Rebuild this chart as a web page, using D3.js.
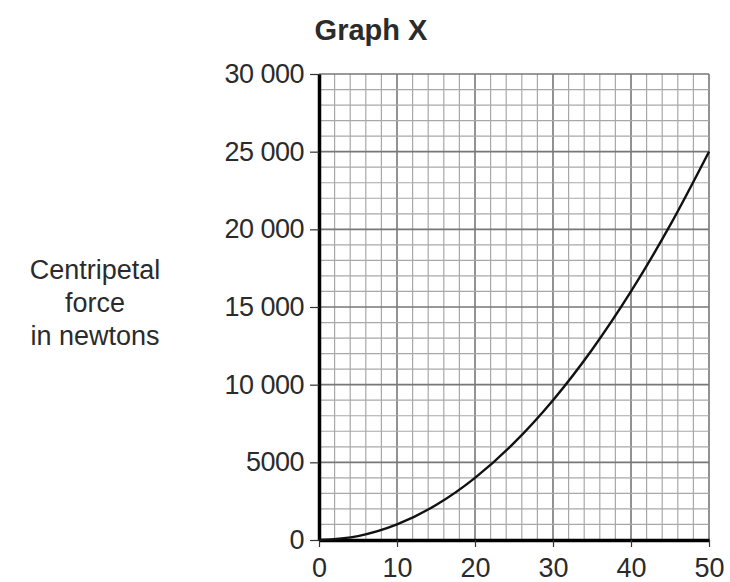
<!DOCTYPE html>
<html>
<head>
<meta charset="utf-8">
<script src="https://cdn.jsdelivr.net/npm/d3@7"></script>
<style>
  body { margin: 0; background: #fff; }
  text { font-family: "Liberation Sans", Arial, sans-serif; fill: #2b2b2b; }
</style>
</head>
<body>
<div id="chart"></div>
<script>
// values
let speed = [0, 5, 10, 15, 20, 25, 30, 35, 40, 45, 50];
let force = [0, 250, 1000, 2250, 4000, 6250, 9000, 12250, 16000, 20250, 25000];
let x_ticks = [0, 10, 20, 30, 40, 50];
let y_ticks = [0, 5000, 10000, 15000, 20000, 25000, 30000];
let y_tick_labels = ["0", "5000", "10 000", "15 000", "20 000", "25 000", "30 000"];
let title = "Graph X";
let y_label = ["Centripetal", "force", "in newtons"];

let chart_width = 730;
let chart_height = 582;
let margin_left = 319;
let margin_top = 74;
let width = 709 - margin_left;
let height = 540 - margin_top;

let svg = d3.select("#chart")
    .append("svg")
    .attr("width", chart_width)
    .attr("height", chart_height);

let g = svg.append("g")
    .attr("transform", "translate(" + margin_left + "," + margin_top + ")");

let xScale = d3.scaleLinear().domain([0, 50]).range([0, width]);
let yScale = d3.scaleLinear().domain([0, 30000]).range([height, 0]);

// minor grid: every 2 on x, every 1000 on y
let x_minor = d3.range(0, 51, 2);
let y_minor = d3.range(0, 30001, 1000);

g.selectAll(".xminor")
    .data(x_minor)
    .enter()
    .append("line")
    .attr("x1", d => xScale(d))
    .attr("x2", d => xScale(d))
    .attr("y1", 0)
    .attr("y2", height)
    .attr("stroke", d => d % 10 == 0 ? "#777" : "#a8a8a8")
    .attr("stroke-width", d => d % 10 == 0 ? 1.6 : 1.2);

g.selectAll(".yminor")
    .data(y_minor)
    .enter()
    .append("line")
    .attr("x1", 0)
    .attr("x2", width)
    .attr("y1", d => yScale(d))
    .attr("y2", d => yScale(d))
    .attr("stroke", d => d % 5000 == 0 ? "#777" : "#a8a8a8")
    .attr("stroke-width", d => d % 5000 == 0 ? 1.6 : 1.2);

// axes
let x_axis = g.append("g")
    .attr("transform", "translate(0," + height + ")")
    .call(d3.axisBottom(xScale).tickValues(x_ticks).tickSize(7).tickPadding(11).tickSizeOuter(0));
x_axis.select(".domain").attr("stroke", "#000").attr("stroke-width", 3.5);
x_axis.selectAll(".tick line").attr("stroke", "#333").attr("stroke-width", 1.2);
x_axis.selectAll(".tick text").attr("font-size", "27px").attr("fill", "#2b2b2b");

let y_axis = g.append("g")
    .call(d3.axisLeft(yScale).tickValues(y_ticks).tickSize(9).tickPadding(6).tickSizeOuter(0)
        .tickFormat((d, i) => y_tick_labels[i]));
y_axis.select(".domain").attr("stroke", "#000").attr("stroke-width", 3.5);
y_axis.selectAll(".tick line").attr("stroke", "#333").attr("stroke-width", 1.2);
y_axis.selectAll(".tick text").attr("font-size", "27px").attr("fill", "#2b2b2b")
    .style("letter-spacing", "-0.5px");

// curve
g.append("path")
    .datum(speed.map((s, i) => [s, force[i]]))
    .attr("fill", "none")
    .attr("stroke", "#111")
    .attr("stroke-width", 2.4)
    .attr("d", d3.line()
        .curve(d3.curveMonotoneX)
        .x(d => xScale(d[0]))
        .y(d => yScale(d[1])));

// title
svg.append("text")
    .attr("x", 371)
    .attr("y", 40)
    .attr("text-anchor", "middle")
    .attr("font-size", "29px")
    .attr("font-weight", "bold")
    .text(title);

// y label
svg.append("g").selectAll("text")
    .data(y_label)
    .enter()
    .append("text")
    .attr("x", 95)
    .attr("y", (d, i) => 279 + i * 33)
    .attr("text-anchor", "middle")
    .attr("font-size", "27px")
    .text(d => d);
</script>
</body>
</html>
